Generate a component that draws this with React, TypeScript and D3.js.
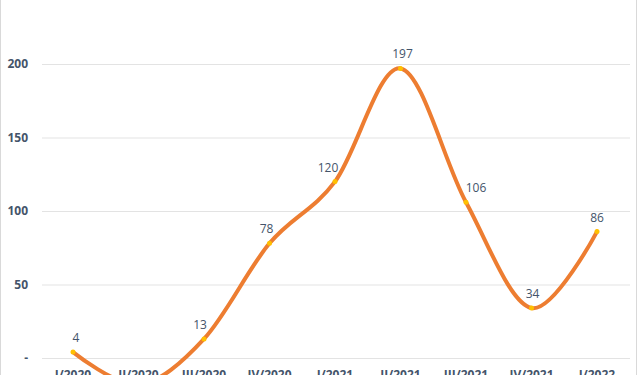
import { useRef, useEffect } from "react";
import * as d3 from "d3";

const quarters = ["I/2020", "II/2020", "III/2020", "IV/2020", "I/2021", "II/2021", "III/2021", "IV/2021", "I/2022"];
const values = [4, -18, 13, 78, 120, 197, 106, 34, 86];
const yTicks = [0, 50, 100, 150, 200];

// label nudges (px), as placed in the original chart
const labelDx = [3, 0, -4, -3, -7, 2, 10, 1, 0];

const WIDTH = 640;
const HEIGHT = 375;

export default function App() {
  const svgRef = useRef<SVGSVGElement>(null);

  useEffect(() => {
    const svg = d3.select(svgRef.current);
    svg.selectAll("*").remove();

    const x = d3.scalePoint().domain(quarters).range([73, 597]);
    const y = d3.scaleLinear().domain([0, 200]).range([358, 64]);

    // frame edges
    svg.append("line").attr("x1", 0.5).attr("x2", 0.5).attr("y1", 0).attr("y2", HEIGHT).attr("stroke", "#d9d9d9");
    svg.append("line").attr("x1", 636.5).attr("x2", 636.5).attr("y1", 0).attr("y2", HEIGHT).attr("stroke", "#d9d9d9");

    const g = svg.append("g").attr("font-family", "'Open Sans', sans-serif");

    // grid + y labels
    g.append("g")
      .attr("transform", "translate(42,0)")
      .call(d3.axisLeft(y).tickValues(yTicks).tickSize(-588).tickFormat((d) => (d === 0 ? "-" : String(d))))
      .call((a) => a.select(".domain").remove())
      .call((a) => a.selectAll("line").attr("stroke", "#e3e3e3"))
      .call((a) =>
        a.selectAll("text")
          .attr("x", -14)
          .attr("fill", "#44546a")
          .attr("font-size", "12px")
          .attr("font-weight", "bold")
          .attr("font-family", "'Open Sans', sans-serif")
      );

    // x labels (cut by the bottom edge, as in the original)
    g.selectAll("text.xl")
      .data(quarters)
      .join("text")
      .attr("class", "xl")
      .attr("x", (d) => x(d) ?? 0)
      .attr("y", 379)
      .attr("text-anchor", "middle")
      .attr("fill", "#44546a")
      .attr("font-size", "12px")
      .attr("font-weight", "bold")
      .text((d) => d);

    const line = d3.line<number>()
      .x((_, i) => x(quarters[i]) ?? 0)
      .y((d) => y(d))
      .curve(d3.curveCardinal.tension(0));

    svg.append("path")
      .datum(values)
      .attr("d", line)
      .attr("fill", "none")
      .attr("stroke", "#ed7d31")
      .attr("stroke-width", 4)
      .attr("stroke-linecap", "round");

    svg.selectAll("circle")
      .data(values)
      .join("circle")
      .attr("cx", (_, i) => x(quarters[i]) ?? 0)
      .attr("cy", (d) => y(d))
      .attr("r", 2.5)
      .attr("fill", "#ffc000");

    // data labels above points; negative one falls below, off the visible area
    g.selectAll("text.dl")
      .data(values)
      .join("text")
      .attr("class", "dl")
      .attr("x", (_, i) => (x(quarters[i]) ?? 0) + labelDx[i])
      .attr("y", (d) => (d < 0 ? y(d) + 24 : y(d) - 10))
      .attr("text-anchor", "middle")
      .attr("fill", "#44546a")
      .attr("font-size", "12px")
      .text((d) => d);
  }, []);

  return (
    <svg
      ref={svgRef}
      width={WIDTH}
      height={HEIGHT}
      style={{ position: "absolute", left: 0, top: 0, background: "#fff" }}
    />
  );
}
